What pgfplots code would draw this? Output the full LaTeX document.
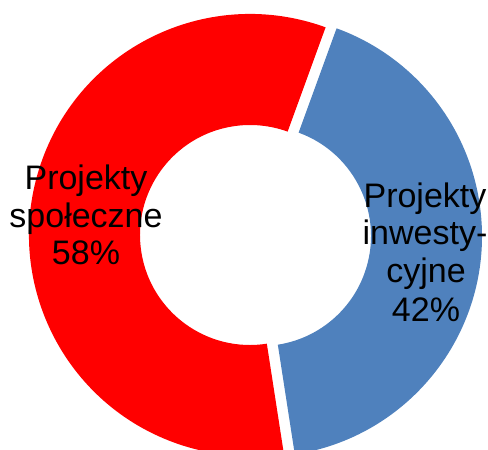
\documentclass[border=0pt]{standalone}
\usepackage{fontspec}
\setmainfont{Liberation Sans}
\usepackage{pgfplots}
\pgfplotsset{compat=1.18}
\definecolor{spol}{HTML}{FF0000}
\definecolor{inw}{HTML}{4F81BD}

\begin{document}
\begin{tikzpicture}
% shares: społeczne 58, inwestycyjne 42
\pgfmathsetmacro{\start}{70}
\pgfmathsetmacro{\redend}{\start+58*3.6}
\pgfmathsetmacro{\blueend}{\redend+42*3.6}
\begin{axis}[
    hide axis,
    scale only axis,
    width=488pt, height=450pt,
    xmin=0, xmax=488, ymin=0, ymax=450,
    clip=true,
    ]
    % red slice
    \fill[spol] (axis cs:250,215) ++(\start:221pt)
        arc[start angle=\start, end angle=\redend, radius=221pt]
        -- ++(\redend:-111pt)
        arc[start angle=\redend, end angle=\start, radius=110pt] -- cycle;
    % blue slice, pulled out a little
    \fill[inw] (axis cs:261,214) ++(\redend:221pt)
        arc[start angle=\redend, end angle=\blueend, radius=221pt]
        -- ++(\blueend:-111pt)
        arc[start angle=\blueend, end angle=\redend, radius=110pt] -- cycle;

    \begin{scope}[every node/.style={anchor=base, inner sep=0pt,
        font=\fontsize{34}{38}\selectfont}]
    \node at (axis cs:86,260) {Projekty};
    \node at (axis cs:86,222) {społeczne};
    \node at (axis cs:86,185) {58\%};
    \node at (axis cs:425,242) {Projekty};
    \node at (axis cs:425,205) {inwesty-};
    \node at (axis cs:426,167) {cyjne};
    \node at (axis cs:426,128) {42\%};
    \end{scope}
\end{axis}
\pgfresetboundingbox
\path (current axis.south west) rectangle (current axis.north east);
\end{tikzpicture}
\end{document}
